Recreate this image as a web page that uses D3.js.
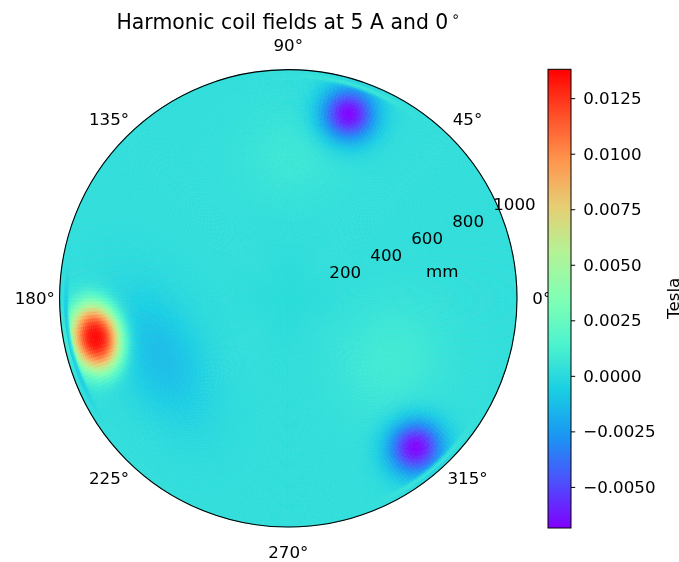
<!DOCTYPE html>
<html>
<head>
<meta charset="utf-8">
<script src="https://cdn.jsdelivr.net/npm/d3@7"></script>
<style>
  body { margin: 0; background: #fff; }
  #wrap { position: relative; width: 679px; height: 562px; }
  #wrap canvas, #wrap svg { position: absolute; left: 0; top: 0; }
  text { font-family: "DejaVu Sans", sans-serif; fill: #000; }
</style>
</head>
<body>
<div id="wrap"></div>
<script>
// Chart values
const angleTicks = [0, 45, 90, 135, 180, 225, 270, 315];   // degrees
const radialTicks = [200, 400, 600, 800, 1000];            // mm
const colorTicks = [-0.005, -0.0025, 0, 0.0025, 0.005, 0.0075, 0.01, 0.0125];
const fieldRange = [-0.00685, 0.0138];                       // Tesla, colorbar ends
const radiusMax = 1031;                                      // mm at the rim of the plot
const backgroundField = 0.0002;

// Field hot spots (coil poles and their weaker partners)
const spotAngle = [72, 191.7, 310.5, 205, 330, 89];          // degrees
const spotRadius = [874, 887, 885, 630, 540, 640];           // mm
const spotPeak = [-0.00705, 0.01355, -0.00705, -0.0015, 0.0007, 0.0005];
const spotRadialWidth = [118, 110, 118, 180, 230, 200];      // mm
const spotTangentialWidth = [120, 150, 122, 320, 260, 230];  // mm
const spotSharpness = [2, 2.6, 2, 2, 2, 2];
// thin line near the edge next to each pole
const rimPeak = [0.002, -0.004, 0.002, 0, 0, 0];
const rimRadius = 1002, rimWidth = 9;

// matplotlib "rainbow" colour map, sampled every 0.1
const rainbowStops = ['#8000ff', '#4d4ffc', '#1a96f3', '#1acee3', '#4df3ce', '#80ffb4',
                      '#b3f396', '#e6ce74', '#ff964f', '#ff4f28', '#ff0000'];

const width = 679, height = 562;
const cx = 288.3, cy = 298.3, radius = 228.7;
const thetaLabelRadius = 253.5;

const rScale = d3.scaleLinear().domain([0, radiusMax]).range([0, radius]);
const color = d3.scaleLinear()
  .domain(rainbowStops.map((c, i) => fieldRange[0] + i / (rainbowStops.length - 1) * (fieldRange[1] - fieldRange[0])))
  .range(rainbowStops)
  .interpolate(d3.interpolateRgb)
  .clamp(true);

/**
 * Field value at a polar position (degrees, mm)
 */
function fieldAt(thetaDeg, r) {
  const t = thetaDeg * Math.PI / 180;
  const x = r * Math.cos(t), y = r * Math.sin(t);
  let v = backgroundField;
  spotAngle.forEach((a, i) => {
    const ts = a * Math.PI / 180;
    const dx = x - spotRadius[i] * Math.cos(ts);
    const dy = y - spotRadius[i] * Math.sin(ts);
    const dr = dx * Math.cos(ts) + dy * Math.sin(ts);
    const dt = -dx * Math.sin(ts) + dy * Math.cos(ts);
    const d = Math.hypot(dr / spotRadialWidth[i], dt / spotTangentialWidth[i]);
    let s = spotPeak[i] * Math.exp(-Math.pow(d, spotSharpness[i]));
    if (rimPeak[i] !== 0) {
      if (r > rimRadius) s *= 0.3;
      const da = ((thetaDeg - a + 540) % 360) - 180;
      const arcLen = da * Math.PI / 180 * rimRadius;
      s += rimPeak[i] * Math.exp(-Math.pow((r - rimRadius) / rimWidth, 2)
                                 - Math.pow(arcLen / (1.3 * spotTangentialWidth[i]), 2));
    }
    v += s;
  });
  return v;
}

const wrap = d3.select('#wrap');

// Polar mesh drawn on canvas through d3.arc
const canvas = wrap.append('canvas').attr('width', width).attr('height', height);
const ctx = canvas.node().getContext('2d');
ctx.translate(cx, cy);
const arc = d3.arc().context(ctx);
const thetaStep = 1, rStep = radiusMax / 120;
for (let th = 0; th < 360; th += thetaStep) {
  for (let r = 0; r < radiusMax - 1e-6; r += rStep) {
    const c = color(fieldAt(th + thetaStep / 2, r + rStep / 2));
    ctx.beginPath();
    arc({
      innerRadius: rScale(r),
      outerRadius: rScale(Math.min(r + rStep, radiusMax)),
      startAngle: Math.PI / 2 - (th + thetaStep) * Math.PI / 180,
      endAngle: Math.PI / 2 - th * Math.PI / 180
    });
    ctx.fillStyle = c;
    ctx.strokeStyle = c;
    ctx.lineWidth = 0.6;
    ctx.fill();
    ctx.stroke();
  }
}

const svg = wrap.append('svg').attr('width', width).attr('height', height);

// Title
const title = svg.append('text')
  .attr('x', cx).attr('y', 29)
  .attr('text-anchor', 'middle')
  .style('font-size', '20.4px')
  .text('Harmonic coil fields at 5 A and 0');
title.append('tspan').attr('dx', 3).attr('dy', -8).style('font-size', '14px').text('∘');

// Outer circle
svg.append('circle')
  .attr('cx', cx).attr('cy', cy).attr('r', radius)
  .style('fill', 'none').style('stroke', '#000').style('stroke-width', '1.1px');

// Angle labels
svg.selectAll('.theta-label')
  .data(angleTicks)
  .enter()
  .append('text')
  .attr('class', 'theta-label')
  .attr('x', d => cx + thetaLabelRadius * Math.cos(d * Math.PI / 180))
  .attr('y', d => cy - thetaLabelRadius * Math.sin(d * Math.PI / 180))
  .attr('dy', '0.36em')
  .attr('text-anchor', 'middle')
  .style('font-size', '16.7px')
  .text(d => d + '°');

// Radial labels along 22.5 degrees
const labelAngle = 22.5 * Math.PI / 180;
svg.selectAll('.r-label')
  .data(radialTicks)
  .enter()
  .append('text')
  .attr('class', 'r-label')
  .attr('x', d => cx + rScale(d) * Math.cos(labelAngle))
  .attr('y', d => cy - rScale(d) * Math.sin(labelAngle) - 3)
  .style('font-size', '16.7px')
  .text(d => d);

svg.append('text')
  .attr('x', cx + 154).attr('y', cy - 21)
  .attr('text-anchor', 'middle')
  .style('font-size', '16.7px')
  .text('mm');

// Colorbar
const barX = 548, barW = 23, barTop = 69.3, barBottom = 528;
const cScale = d3.scaleLinear().domain(fieldRange).range([barBottom, barTop]);

const grad = svg.append('defs').append('linearGradient')
  .attr('id', 'cbar')
  .attr('x1', 0).attr('y1', 1).attr('x2', 0).attr('y2', 0);
grad.selectAll('stop')
  .data(d3.range(0, 1.0001, 0.02))
  .enter()
  .append('stop')
  .attr('offset', d => d)
  .attr('stop-color', d => color(fieldRange[0] + d * (fieldRange[1] - fieldRange[0])));

svg.append('rect')
  .attr('x', barX).attr('y', barTop)
  .attr('width', barW).attr('height', barBottom - barTop)
  .style('fill', 'url(#cbar)')
  .style('stroke', '#000').style('stroke-width', '1px');

const cAxis = svg.append('g')
  .attr('transform', `translate(${barX + barW},0)`)
  .call(d3.axisRight(cScale).tickValues(colorTicks).tickFormat(d3.format('.4f')).tickSize(4.2).tickPadding(8));
cAxis.select('.domain').remove();
cAxis.selectAll('line').style('stroke', '#000');
cAxis.selectAll('text')
  .style('font-family', '"DejaVu Sans", sans-serif')
  .style('font-size', '16.7px')
  .style('fill', '#000');

svg.append('text')
  .attr('transform', `translate(673,${cy}) rotate(-90)`)
  .attr('text-anchor', 'middle')
  .attr('dy', '0.35em')
  .style('font-size', '16.7px')
  .text('Tesla');
</script>
</body>
</html>
